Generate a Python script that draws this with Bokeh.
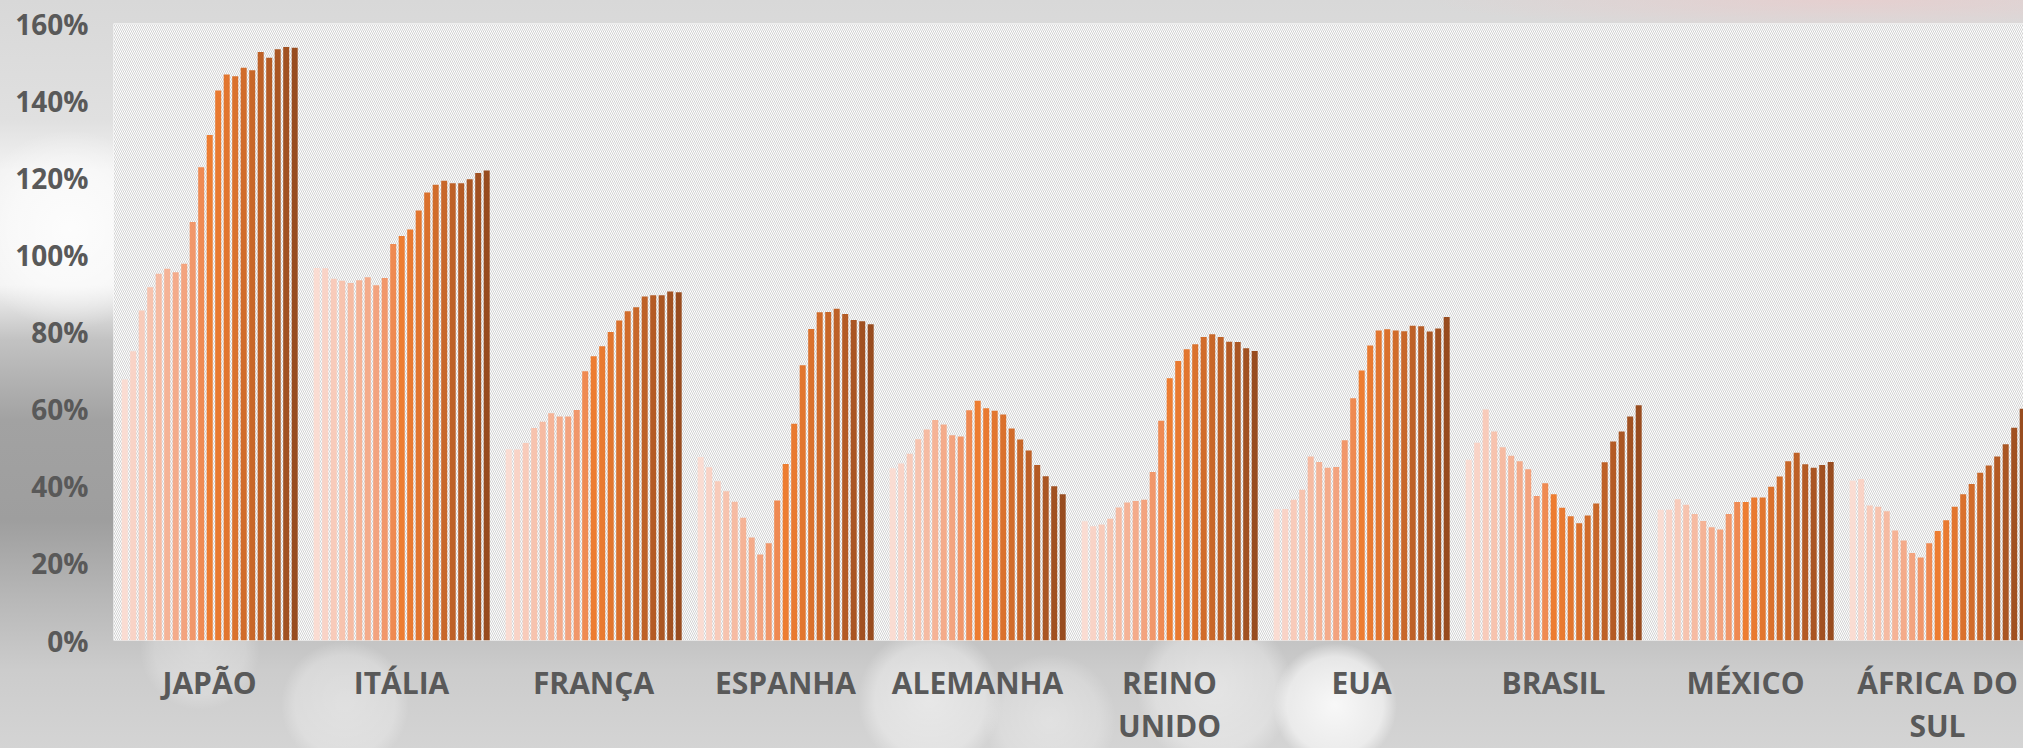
from bokeh.plotting import figure
from bokeh.models import Range1d, FixedTicker, NumeralTickFormatter, ColumnDataSource, BoxAnnotation
from bokeh.embed import file_html
from bokeh.resources import INLINE

# ---------------- data ----------------
countries = ["JAPÃO", "ITÁLIA", "FRANÇA", "ESPANHA", "ALEMANHA",
             "REINO UNIDO", "EUA", "BRASIL", "MÉXICO", "ÁFRICA DO SUL"]
country_labels = ["JAPÃO", "ITÁLIA", "FRANÇA", "ESPANHA", "ALEMANHA",
                  "REINO\nUNIDO", "EUA", "BRASIL", "MÉXICO", "ÁFRICA DO\nSUL"]
years = [1995, 1996, 1997, 1998, 1999, 2000, 2001, 2002, 2003, 2004, 2005,
         2006, 2007, 2008, 2009, 2010, 2011, 2012, 2013, 2014, 2015]

japao = [0.677, 0.750, 0.856, 0.916, 0.951, 0.964, 0.955, 0.977, 1.085, 1.227, 1.311,
         1.426, 1.468, 1.463, 1.485, 1.479, 1.526, 1.511, 1.533, 1.539, 1.537]
italia = [0.966, 0.965, 0.938, 0.933, 0.927, 0.934, 0.942, 0.921, 0.940, 1.028, 1.049,
          1.066, 1.115, 1.162, 1.182, 1.192, 1.186, 1.186, 1.196, 1.212, 1.219]
franca = [0.496, 0.495, 0.512, 0.551, 0.567, 0.589, 0.581, 0.581, 0.598, 0.698, 0.737,
          0.763, 0.800, 0.830, 0.854, 0.864, 0.892, 0.895, 0.895, 0.905, 0.903]
espanha = [0.476, 0.449, 0.413, 0.387, 0.360, 0.318, 0.267, 0.223, 0.252, 0.363, 0.458,
           0.562, 0.714, 0.808, 0.851, 0.852, 0.860, 0.847, 0.831, 0.828, 0.820]
alemanha = [0.447, 0.459, 0.484, 0.522, 0.547, 0.572, 0.560, 0.532, 0.529, 0.597, 0.622,
            0.602, 0.596, 0.586, 0.550, 0.521, 0.493, 0.455, 0.426, 0.400, 0.379]
reino_unido = [0.309, 0.296, 0.301, 0.316, 0.345, 0.358, 0.362, 0.365, 0.437, 0.570, 0.680,
               0.725, 0.755, 0.768, 0.787, 0.794, 0.787, 0.775, 0.774, 0.758, 0.751]
eua = [0.341, 0.341, 0.365, 0.391, 0.477, 0.463, 0.448, 0.450, 0.519, 0.628, 0.700,
       0.765, 0.804, 0.807, 0.804, 0.802, 0.816, 0.815, 0.801, 0.809, 0.839]
brasil = [0.469, 0.513, 0.599, 0.542, 0.501, 0.479, 0.465, 0.444, 0.375, 0.408, 0.379,
          0.344, 0.322, 0.304, 0.324, 0.355, 0.462, 0.516, 0.542, 0.581, 0.610]
mexico = [0.339, 0.339, 0.366, 0.352, 0.328, 0.310, 0.294, 0.288, 0.328, 0.359, 0.359,
          0.371, 0.371, 0.399, 0.425, 0.465, 0.487, 0.457, 0.448, 0.455, 0.463]
africa_do_sul = [0.414, 0.419, 0.350, 0.347, 0.335, 0.285, 0.259, 0.227, 0.215, 0.252, 0.284,
                 0.312, 0.347, 0.379, 0.406, 0.435, 0.454, 0.477, 0.509, 0.552, 0.601]

series = [japao, italia, franca, espanha, alemanha, reino_unido, eua, brasil, mexico, africa_do_sul]

year_colors = ["#FADCD2", "#F9D3C6", "#F8CBBA", "#F7C3AE", "#F6BBA2", "#F5B396", "#F4AB8A",
               "#F3A37E", "#F1976A", "#EF8A52", "#ED7D31", "#E97A30", "#E2762F", "#DA712D",
               "#D16C2B", "#C86729", "#BE6127", "#B45B25", "#AA5623", "#A15121", "#984C1F"]
y_ticks = [0, 0.2, 0.4, 0.6, 0.8, 1.0, 1.2, 1.4, 1.6]

# ---------------- layout constants ----------------
W, H = 2023, 748
LEFT, TOP, BOTTOM = 113, 23, 108
CAT_PX = 192.0
first_off = 11.2 / CAT_PX
slot = 8.5 / CAT_PX
bar_w = 6.0 / CAT_PX

xs, tops, cols = [], [], []
for g, vals in enumerate(series):
    for j, v in enumerate(vals):
        xs.append(g + first_off + j * slot)
        tops.append(v)
        cols.append(year_colors[j])
src = ColumnDataSource(dict(x=xs, top=tops, color=cols))

p = figure(width=W, height=H, output_backend="svg", toolbar_location=None,
           x_range=Range1d(0, (W - LEFT) / CAT_PX), y_range=Range1d(0, 1.6),
           min_border_left=LEFT, min_border_right=0, min_border_top=TOP,
           min_border_bottom=BOTTOM)
p.border_fill_color = None
p.background_fill_color = "white"
p.outline_line_color = None
p.grid.visible = False

# photographic grey backdrop imitated with CSS gradients behind the transparent canvas
p.styles = {
    "background": ", ".join([
        "radial-gradient(circle at 1335px 705px, rgba(255,255,255,0.85) 0px, rgba(255,255,255,0.55) 48px, rgba(255,255,255,0) 62px)",
        "radial-gradient(circle at 1215px 690px, rgba(255,255,255,0.45) 0px, rgba(255,255,255,0.3) 60px, rgba(255,255,255,0) 78px)",
        "radial-gradient(circle at 930px 700px, rgba(255,255,255,0.5) 0px, rgba(255,255,255,0.35) 55px, rgba(255,255,255,0) 72px)",
        "radial-gradient(circle at 1050px 720px, rgba(255,255,255,0.35) 0px, rgba(255,255,255,0.2) 50px, rgba(255,255,255,0) 66px)",
        "radial-gradient(circle at 345px 705px, rgba(255,255,255,0.35) 0px, rgba(255,255,255,0.25) 50px, rgba(255,255,255,0) 64px)",
        "radial-gradient(circle at 200px 650px, rgba(255,255,255,0.3) 0px, rgba(255,255,255,0.2) 45px, rgba(255,255,255,0) 60px)",
        "radial-gradient(circle at 70px 230px, rgba(255,255,255,0.8) 0px, rgba(255,255,255,0.5) 60px, rgba(255,255,255,0) 100px)",
        "radial-gradient(ellipse 420px 30px at 1850px 0px, rgba(240,200,200,0.55) 0px, rgba(240,200,200,0) 100%)",
        "linear-gradient(to bottom, #d8d8d8 0px, #e0e0e0 120px, #f2f2f2 170px, #f3f3f3 285px, #c2c2c2 340px, "
        "#a2a2a2 420px, #9e9e9e 520px, #b8b8b8 600px, #cccccc 670px, #d4d4d4 748px)",
    ]),
}

# hatched plot area
p.add_layout(BoxAnnotation(fill_color="white", fill_alpha=1, line_color=None,
                           hatch_pattern="\\", hatch_color="#d2d2d2", hatch_scale=4,
                           hatch_weight=1, level="underlay"))

p.vbar(x="x", top="top", bottom=0, width=bar_w, color="color", source=src, line_color=None)

for ax in (p.xaxis[0], p.yaxis[0]):
    ax.axis_line_color = None
    ax.major_tick_line_color = None
    ax.minor_tick_line_color = None
    ax.major_tick_out = 0
    ax.major_tick_in = 0
    ax.major_label_text_font = "Open Sans"
    ax.major_label_text_font_style = "bold"
    ax.major_label_text_color = "#595959"

p.yaxis.ticker = FixedTicker(ticks=y_ticks)
p.yaxis.formatter = NumeralTickFormatter(format="0%")
p.yaxis.major_label_text_font_size = "28px"
p.yaxis.major_label_standoff = 25

p.xaxis.ticker = FixedTicker(ticks=[g + 0.5 for g in range(len(countries))])
p.xaxis.major_label_overrides = {g + 0.5: lab for g, lab in enumerate(country_labels)}
p.xaxis.major_label_text_font_size = "30px"
p.xaxis.major_label_standoff = 21
p.xaxis.major_label_text_line_height = 1.05

open("out.html", "w").write(file_html(p, INLINE))
